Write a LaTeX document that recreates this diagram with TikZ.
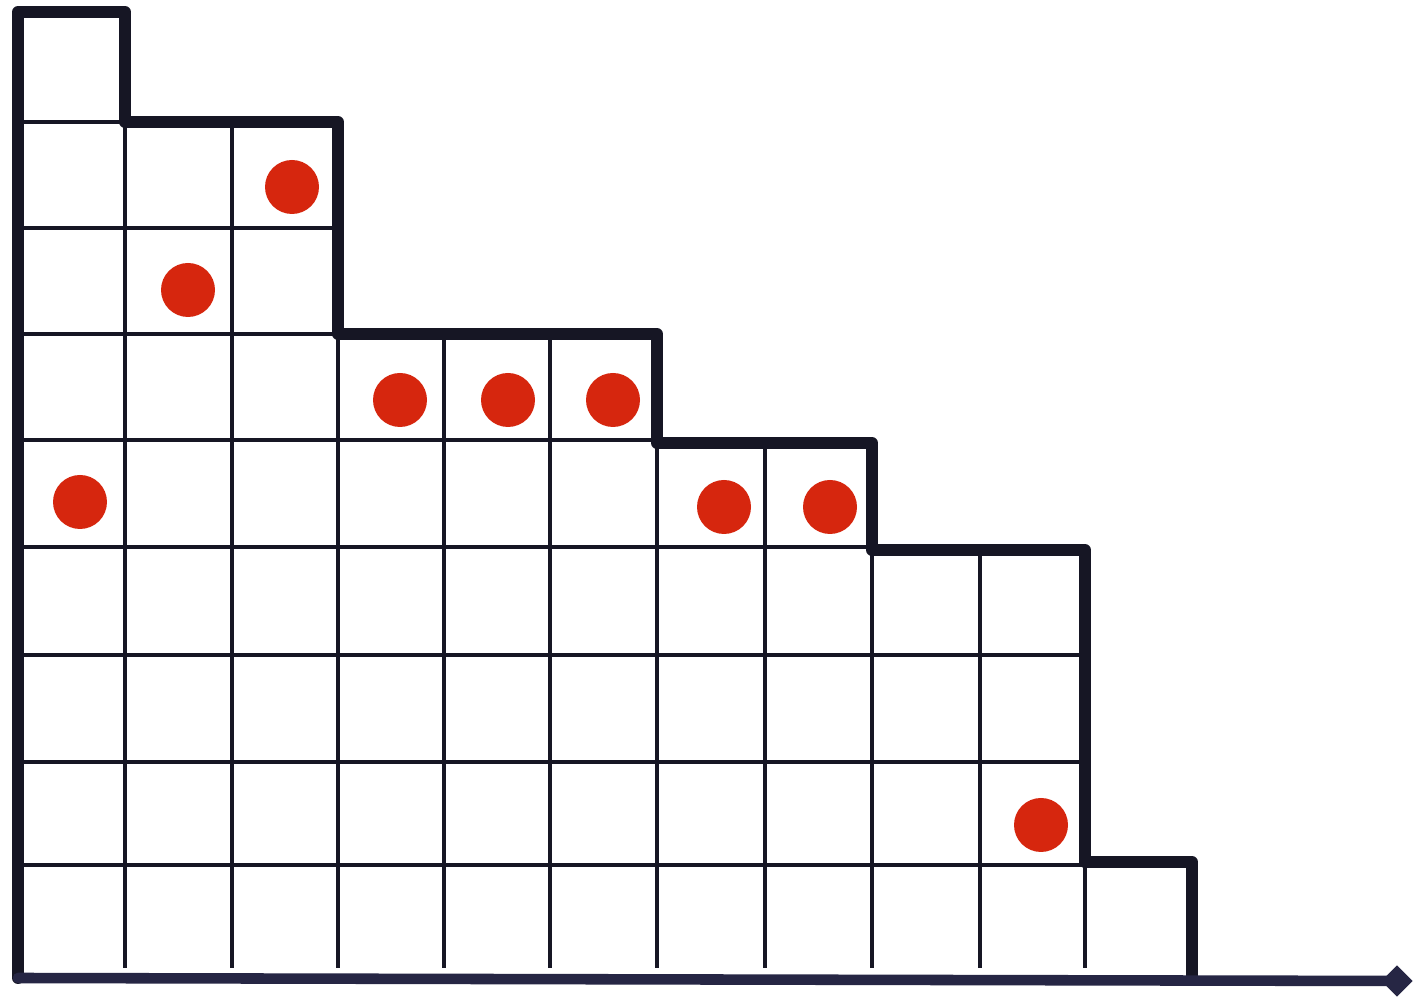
\documentclass[tikz,border=0pt]{standalone}
\usetikzlibrary{shapes.geometric}
\definecolor{ink}{RGB}{22,22,36}
\definecolor{axisink}{RGB}{38,38,68}
\definecolor{dotred}{RGB}{214,38,14}
\begin{document}
\begin{tikzpicture}[x=0.01cm,y=-0.01cm,
  thinline/.style={draw=ink,line width=1.2pt},
  thickline/.style={draw=ink,line width=3.4pt,line join=round,line cap=round},
  axisline/.style={draw=axisink,line width=3pt,line cap=round},
  reddot/.style={fill=dotred}]
\useasboundingbox[fill=white] (0,0) rectangle (1417,1001);
% thin horizontal grid lines
\foreach \y/\xr in {122/338,228/338,334/657,440/657,547/872,655/1085,762/1085,865/1085}
  \draw[thinline] (22,\y) -- (\xr,\y);
% thin vertical grid lines
\foreach \x/\yt in {125/122,232/122,338/334,444/334,550/334,657/443,765/443,872/550,980/550,1085/862}
  \draw[thinline] (\x,\yt) -- (\x,968);
% thick outline of the staircase
\draw[thickline] (18,978) -- (18,12) -- (125,12) -- (125,122) -- (338,122) -- (338,334)
  -- (657,334) -- (657,443) -- (872,443) -- (872,550) -- (1085,550) -- (1085,862)
  -- (1192,862) -- (1192,975);
% bottom axis
\coordinate (axstart) at (18,978);
\coordinate (axend) at (1397,981);
\draw[axisline] (axstart) -- (axend);
\node[diamond,fill=axisink,inner sep=0pt,minimum size=9pt] (tip) at (axend) {};
% red dots
\foreach \x/\y in {292/187,188/290,400/400,508/400,613/400,80/502,724/507,830/507,1041/825}
  \fill[reddot] (\x,\y) circle (27);
\end{tikzpicture}
\end{document}
